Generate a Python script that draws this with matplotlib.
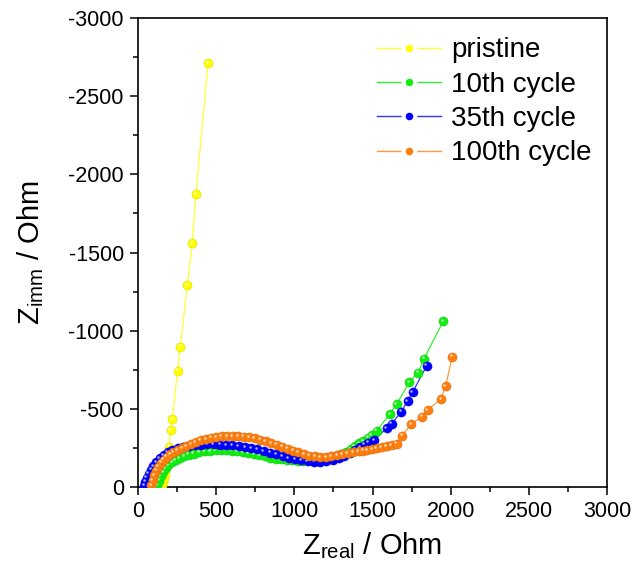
import matplotlib
matplotlib.use("Agg")
import matplotlib.pyplot as plt
from matplotlib.lines import Line2D
from matplotlib.transforms import offset_copy
import matplotlib.colors as mcolors

plt.rcParams['font.family'] = ['Liberation Sans', 'DejaVu Sans']
plt.rcParams['mathtext.fontset'] = 'custom'
plt.rcParams['mathtext.rm'] = 'Liberation Sans'
plt.rcParams['mathtext.it'] = 'Liberation Sans'
plt.rcParams['axes.unicode_minus'] = False

# ---- data (Z_real, Z_imm in Ohm) ----
pristine_x = [150, 158, 163, 168, 172, 177, 183, 190, 200, 211, 221, 255, 272, 317, 348, 372, 449]
pristine_y = [-2, -12, -30, -55, -85, -120, -160, -205, -258, -365, -435, -744, -897, -1290, -1559, -1874, -2712]

c10_x = [125, 135, 147, 162, 178, 196, 218, 242, 268, 296, 326, 358, 392, 427, 462, 497, 532, 567, 602,
         637, 672, 707, 742, 777, 812, 847, 882, 917, 952, 987, 1022, 1057, 1092, 1127, 1162, 1197, 1232,
         1267, 1300, 1330, 1360, 1386, 1416, 1441, 1470, 1495, 1526, 1611, 1654, 1735, 1792, 1829, 1953]
c10_y = [-10, -40, -70, -95, -120, -140, -158, -172, -185, -196, -206, -214, -221, -227, -231, -234, -235, -234, -232,
         -228, -223, -217, -210, -203, -195, -188, -181, -176, -172, -170, -169, -169, -170, -172, -176, -182, -190,
         -200, -212, -225, -240, -262, -280, -294, -315, -333, -360, -467, -529, -672, -731, -821, -1062]

c35_x = [40, 48, 58, 70, 85, 100, 118, 140, 165, 192, 222, 255, 290, 327, 365, 405, 445, 485, 525, 565,
         605, 645, 685, 725, 765, 805, 845, 885, 925, 965, 1005, 1045, 1085, 1125, 1165, 1205, 1245, 1285,
         1320, 1355, 1390, 1420, 1450, 1473, 1511, 1590, 1622, 1685, 1724, 1756, 1846]
c35_y = [-8, -35, -60, -85, -110, -135, -160, -185, -205, -222, -236, -248, -257, -264, -268, -271, -272, -272, -271, -269,
         -266, -262, -256, -249, -240, -230, -220, -208, -197, -186, -177, -170, -165, -162, -162, -165, -172, -185,
         -200, -218, -238, -254, -270, -283, -301, -375, -405, -482, -551, -606, -776]

c100_x = [85, 95, 105, 118, 132, 148, 165, 185, 207, 230, 255, 282, 310, 340, 370, 402, 435, 468, 502, 537,
          572, 607, 642, 677, 712, 747, 782, 817, 852, 887, 922, 957, 992, 1027, 1062, 1097, 1132, 1167, 1202,
          1237, 1272, 1307, 1342, 1377, 1412, 1440, 1467, 1497, 1526, 1558, 1590, 1622, 1654, 1688, 1746, 1815,
          1852, 1937, 1967, 2009]
c100_y = [-10, -45, -75, -105, -130, -155, -175, -194, -210, -223, -235, -248, -262, -275, -287, -298, -308, -315, -320, -323,
          -325, -326, -325, -322, -317, -311, -303, -293, -282, -270, -258, -245, -233, -221, -210, -201, -195, -192, -193,
          -197, -203, -210, -216, -222, -229, -233, -237, -243, -248, -256, -262, -268, -277, -328, -402, -450,
          -493, -564, -646, -833]

labels = ['pristine', '10th cycle', '35th cycle', '100th cycle']
colors = ['#FFFF00', '#11EE11', '#0000FF', '#FF7F0E']
line_colors = ['#FFFF33', '#33EE33', '#3333FF', '#FF9940']

xticks = [0, 500, 1000, 1500, 2000, 2500, 3000]
yticks = [0, -500, -1000, -1500, -2000, -2500, -3000]

series = [(pristine_x, pristine_y), (c10_x, c10_y), (c35_x, c35_y), (c100_x, c100_y)]

fig = plt.figure(figsize=(6.32, 5.74), dpi=100)
ax = fig.add_axes([0.2179, 0.1516, 0.7431, 0.8170])

ms = 6.6
hl = offset_copy(ax.transData, fig=fig, x=-1.3, y=1.3, units='dots')

def darker(c, f=0.8):
    r, g, b = mcolors.to_rgb(c)
    return (r * f, g * f, b * f)

def lighter(c, f=0.7):
    r, g, b = mcolors.to_rgb(c)
    return (r + (1 - r) * f, g + (1 - g) * f, b + (1 - b) * f)

for (xs, ys), col, lc in zip(series, colors, line_colors):
    ax.plot(xs, ys, '-', color=lc, lw=0.9, zorder=2)
    ax.plot(xs, ys, 'o', ms=ms, mfc=col, mec=darker(col), mew=0.3, zorder=3)
    ax.plot(xs, ys, 'o', ms=1.8, mfc=lighter(col), mec='none', transform=hl, zorder=3)

ax.set_xlim(0, 3000)
ax.set_ylim(0, -3000)
ax.set_xticks(xticks)
ax.set_yticks(yticks)
ax.set_xticks([250, 750, 1250, 1750, 2250, 2750], minor=True)
ax.set_yticks([-250, -750, -1250, -1750, -2250, -2750], minor=True)
ax.set_xticklabels([str(v) for v in xticks])
ax.set_yticklabels([str(v) for v in yticks])
ax.tick_params(which='major', direction='out', length=6, width=1.1, labelsize=15.5, pad=4)
ax.tick_params(which='minor', direction='out', length=3.5, width=1.1)
ax.tick_params(top=False, right=False)
for s in ax.spines.values():
    s.set_linewidth(1.2)

ax.set_xlabel(r'Z$_{\mathrm{real}}$ / Ohm', fontsize=21, labelpad=6)
ax.set_ylabel(r'Z$_{\mathrm{imm}}$ / Ohm', fontsize=21, labelpad=16)

handles = [Line2D([0], [0], color=lc, lw=1.0, marker='o', ms=8.5, mfc=col,
                  mec='white', mew=3.0) for col, lc in zip(colors, line_colors)]
ax.legend(handles, labels, loc='upper right', bbox_to_anchor=(1.008, 1.0), frameon=False,
          fontsize=20, handlelength=2.3, handletextpad=0.38, labelspacing=0.3, borderaxespad=0.3)

fig.savefig('out.png', dpi=100)
